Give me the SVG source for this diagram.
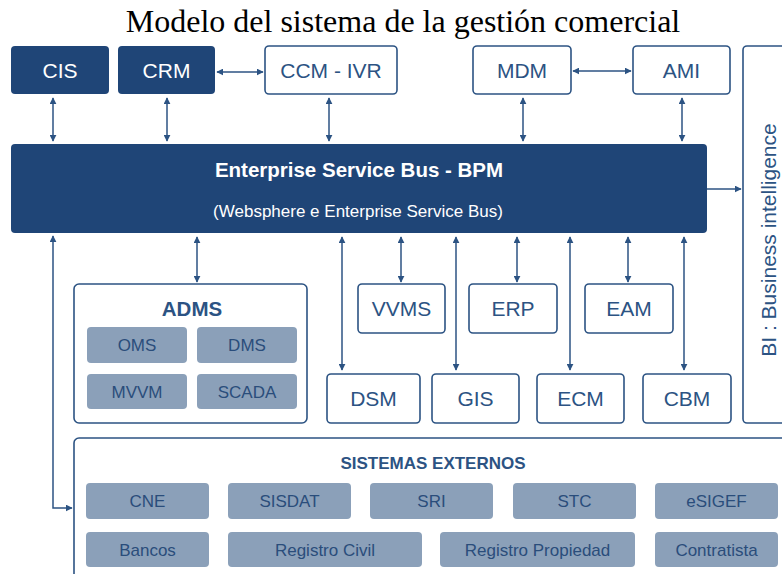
<svg xmlns="http://www.w3.org/2000/svg" width="782" height="574" viewBox="0 0 782 574">
<style>
.dark{fill:#1f4577;stroke:none}
.wbox{fill:#fff;stroke:#2c5383;stroke-width:1.6}
.gbox{fill:#8ba0b9;stroke:none}
.lbl{font-family:"Liberation Sans",Arial,sans-serif;font-size:21px;text-anchor:middle}
.wt{fill:#fff}
.bt{fill:#2c5383}
.gt{font-family:"Liberation Sans",Arial,sans-serif;font-size:17px;text-anchor:middle;fill:#2a4d7b}
.hd{font-family:"Liberation Sans",Arial,sans-serif;font-weight:bold;text-anchor:middle;fill:#2c5383}
.con{stroke:#2c5383;stroke-width:1.5;fill:none}
</style>
<defs>
<marker id="ah" viewBox="0 0 10 10" refX="9" refY="5" markerWidth="7" markerHeight="7" markerUnits="userSpaceOnUse" orient="auto-start-reverse">
<path d="M0,0 L10,5 L0,10 z" fill="#2c5383"/>
</marker>
</defs>
<rect width="782" height="574" fill="#fff"/>
<text x="403" y="32" font-family="'Liberation Serif','Times New Roman',serif" font-size="32" text-anchor="middle" fill="#000">Modelo del sistema de la gestión comercial</text>

<g id="connectors">
<line class="con" x1="53" y1="98" x2="53" y2="141" marker-start="url(#ah)" marker-end="url(#ah)"/>
<line class="con" x1="167" y1="98" x2="167" y2="141" marker-start="url(#ah)" marker-end="url(#ah)"/>
<line class="con" x1="329" y1="98" x2="329" y2="141" marker-start="url(#ah)" marker-end="url(#ah)"/>
<line class="con" x1="523" y1="98" x2="523" y2="141" marker-start="url(#ah)" marker-end="url(#ah)"/>
<line class="con" x1="682" y1="98" x2="682" y2="141" marker-start="url(#ah)" marker-end="url(#ah)"/>
<line class="con" x1="217" y1="72" x2="263" y2="72" marker-start="url(#ah)" marker-end="url(#ah)"/>
<line class="con" x1="573" y1="71" x2="631" y2="71" marker-start="url(#ah)" marker-end="url(#ah)"/>
<line class="con" x1="707" y1="189" x2="741" y2="189" marker-end="url(#ah)"/>
<polyline class="con" points="53,236 53,508 72,508" marker-start="url(#ah)" marker-end="url(#ah)"/>
<line class="con" x1="197" y1="237" x2="197" y2="282" marker-start="url(#ah)" marker-end="url(#ah)"/>
<line class="con" x1="342" y1="237" x2="342" y2="370" marker-start="url(#ah)" marker-end="url(#ah)"/>
<line class="con" x1="401" y1="237" x2="401" y2="282" marker-start="url(#ah)" marker-end="url(#ah)"/>
<line class="con" x1="456" y1="237" x2="456" y2="370" marker-start="url(#ah)" marker-end="url(#ah)"/>
<line class="con" x1="517" y1="237" x2="517" y2="282" marker-start="url(#ah)" marker-end="url(#ah)"/>
<line class="con" x1="570" y1="237" x2="570" y2="370" marker-start="url(#ah)" marker-end="url(#ah)"/>
<line class="con" x1="628" y1="237" x2="628" y2="282" marker-start="url(#ah)" marker-end="url(#ah)"/>
<line class="con" x1="684" y1="237" x2="684" y2="370" marker-start="url(#ah)" marker-end="url(#ah)"/>
</g>

<g id="cis"><rect class="dark" x="11" y="46" width="98" height="48" rx="4"/><text class="lbl wt" x="60" y="78">CIS</text></g>
<g id="crm"><rect class="dark" x="118" y="46" width="97" height="48" rx="4"/><text class="lbl wt" x="166.5" y="78">CRM</text></g>
<g id="ccm"><rect class="wbox" x="265" y="46" width="132" height="48" rx="4"/><text class="lbl bt" x="331" y="78">CCM - IVR</text></g>
<g id="mdm"><rect class="wbox" x="473" y="46" width="98" height="48" rx="4"/><text class="lbl bt" x="522" y="78">MDM</text></g>
<g id="ami"><rect class="wbox" x="633" y="46" width="97" height="48" rx="4"/><text class="lbl bt" x="681.5" y="78">AMI</text></g>
<g id="bi"><rect class="wbox" x="743" y="46" width="60" height="377" rx="4"/><text class="lbl bt" transform="translate(776,240) rotate(-90)">BI : Business intelligence</text></g>

<g id="esb"><rect class="dark" x="11" y="144" width="696" height="89" rx="4"/>
<text class="hd" x="359" y="177" font-size="20.5" style="fill:#fff">Enterprise Service Bus - BPM</text>
<text class="lbl wt" x="358" y="217" style="font-size:17px">(Websphere e Enterprise Service Bus)</text></g>

<g id="adms"><rect class="wbox" x="74" y="284" width="233" height="139" rx="5"/>
<text class="hd" x="192" y="316" font-size="20.5">ADMS</text>
<rect class="gbox" x="87" y="327" width="100" height="36" rx="4"/><text class="gt" x="137" y="351">OMS</text>
<rect class="gbox" x="197" y="327" width="100" height="36" rx="4"/><text class="gt" x="247" y="351">DMS</text>
<rect class="gbox" x="87" y="374" width="100" height="35" rx="4"/><text class="gt" x="137" y="398">MVVM</text>
<rect class="gbox" x="197" y="374" width="100" height="35" rx="4"/><text class="gt" x="247" y="398">SCADA</text></g>

<g id="vvms"><rect class="wbox" x="358" y="284" width="87" height="49" rx="4"/><text class="lbl bt" x="401.5" y="316">VVMS</text></g>
<g id="erp"><rect class="wbox" x="469" y="284" width="88" height="49" rx="4"/><text class="lbl bt" x="513" y="316">ERP</text></g>
<g id="eam"><rect class="wbox" x="585" y="284" width="88" height="49" rx="4"/><text class="lbl bt" x="629" y="316">EAM</text></g>
<g id="dsm"><rect class="wbox" x="327" y="374" width="93" height="49" rx="4"/><text class="lbl bt" x="373.5" y="406">DSM</text></g>
<g id="gis"><rect class="wbox" x="432" y="374" width="87" height="49" rx="4"/><text class="lbl bt" x="475.5" y="406">GIS</text></g>
<g id="ecm"><rect class="wbox" x="537" y="374" width="87" height="49" rx="4"/><text class="lbl bt" x="580.5" y="406">ECM</text></g>
<g id="cbm"><rect class="wbox" x="643" y="374" width="88" height="49" rx="4"/><text class="lbl bt" x="687" y="406">CBM</text></g>

<g id="externos"><rect class="wbox" x="74" y="438" width="760" height="160" rx="5"/>
<text class="hd" x="433" y="469" font-size="17">SISTEMAS EXTERNOS</text>
<rect class="gbox" x="86" y="483" width="123" height="36" rx="4"/><text class="gt" x="147.5" y="507">CNE</text>
<rect class="gbox" x="228" y="483" width="123" height="36" rx="4"/><text class="gt" x="289.5" y="507">SISDAT</text>
<rect class="gbox" x="370" y="483" width="123" height="36" rx="4"/><text class="gt" x="431.5" y="507">SRI</text>
<rect class="gbox" x="513" y="483" width="123" height="36" rx="4"/><text class="gt" x="574.5" y="507">STC</text>
<rect class="gbox" x="655" y="483" width="123" height="36" rx="4"/><text class="gt" x="716.5" y="507">eSIGEF</text>
<rect class="gbox" x="86" y="532" width="123" height="35" rx="4"/><text class="gt" x="147.5" y="556">Bancos</text>
<rect class="gbox" x="228" y="532" width="194" height="35" rx="4"/><text class="gt" x="325" y="556">Registro Civil</text>
<rect class="gbox" x="440" y="532" width="195" height="35" rx="4"/><text class="gt" x="537.5" y="556">Registro Propiedad</text>
<rect class="gbox" x="655" y="532" width="123" height="35" rx="4"/><text class="gt" x="716.5" y="556">Contratista</text></g>
</svg>
